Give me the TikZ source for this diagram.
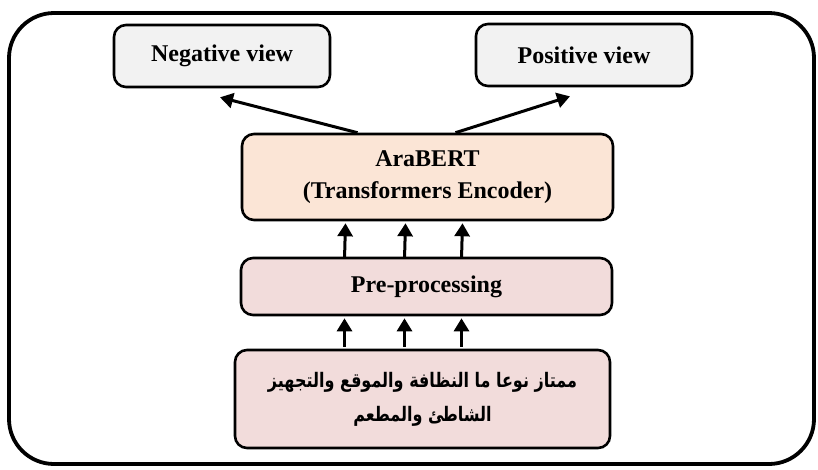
\documentclass[tikz,border=0pt]{standalone}
\usepackage{fontspec}
\setmainfont{Liberation Serif}
\newfontfamily\arabicfont[Script=Arabic]{DejaVu Sans}
\TeXXeTstate=1
\usetikzlibrary{arrows.meta}
\definecolor{viewgray}{HTML}{F2F2F2}
\definecolor{encpeach}{HTML}{FBE5D6}
\definecolor{prepink}{HTML}{F2DCDB}
\begin{document}
\begin{tikzpicture}[x=1pt,y=-1pt,font=\bfseries\fontsize{24}{32}\selectfont,
  box/.style={draw,line width=2.6pt,rounded corners=12pt,align=center,inner sep=0pt},
  up/.style={-{Triangle[length=13pt,width=15pt]},line width=3pt}]
\useasboundingbox (0,0) rectangle (818,469);
\draw[line width=3.8pt,rounded corners=45pt] (9,13) rectangle (814,464);
\node[box,fill=viewgray,minimum width=216pt,minimum height=62pt] (neg) at (222,56) {Negative view};
\node[box,fill=viewgray,minimum width=216pt,minimum height=62pt] (pos) at (584,55) {Positive view};
\node[box,fill=encpeach,minimum width=371pt,minimum height=86pt] (enc) at (427.5,177) {AraBERT\\(Transformers Encoder)};
\node[box,fill=prepink,minimum width=371pt,minimum height=57pt] (pre) at (426.5,286.5) {Pre-processing};
\node[box,fill=prepink,minimum width=375pt,minimum height=98pt,font=\arabicfont\bfseries\fontsize{20}{34}\selectfont] (txt) at (422.5,399)
  {\scalebox{0.8}[1]{\beginR ممتاز نوعا ما النظافة والموقع والتجهيز\endR}\\\scalebox{0.8}[1]{\beginR الشاطئ والمطعم\endR}};
% arrows between the stacked boxes
\foreach \dx in {-82,-22,35} {
  \coordinate (p) at ([xshift=\dx pt]pre.south);
  \draw[up] ([yshift=2pt]p |- txt.north) -- ([yshift=-2pt]p);
  \draw[up] ([xshift=\dx pt,yshift=-2pt]pre.north) -- ([xshift=\dx pt,yshift=-2pt]enc.south);
}
\draw[up] ([xshift=-70pt]enc.north) -- ([xshift=-2pt,yshift=-9pt]neg.south);
\draw[up] ([xshift=28pt]enc.north) -- ([xshift=-14pt,yshift=-9pt]pos.south);
\end{tikzpicture}
\end{document}
